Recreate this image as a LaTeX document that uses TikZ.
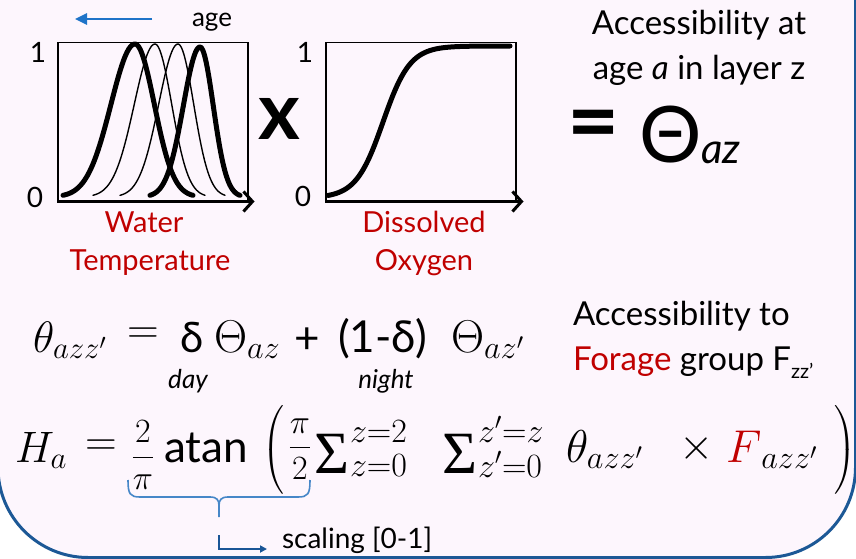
\RequirePackage{fix-cm}
\documentclass[tikz,border=0pt]{standalone}
\usepackage{amsmath}
\usepackage{fontspec}
\setmainfont{Lato}
\newfontfamily\sigmafont{Liberation Serif}
\usetikzlibrary{arrows.meta}
\definecolor{bgpink}{RGB}{253,246,253}
\definecolor{myred}{RGB}{192,0,0}
\definecolor{agebl}{RGB}{30,115,200}
\definecolor{bracebl}{RGB}{70,135,200}
\definecolor{framebl}{RGB}{28,88,150}
\definecolor{arrbl}{RGB}{25,85,150}
\newcommand\fsz[1]{\fontsize{#1}{#1}\selectfont}
\begin{document}
\begin{tikzpicture}[x=1pt,y=-1pt,
  tx/.style={inner sep=0pt, outer sep=0pt},
  plotbox/.style={draw, line width=1.5pt, minimum width=190pt, minimum height=158pt, inner sep=0pt, anchor=north west},
  axisline/.style={line width=3pt, -{Straight Barb[length=9pt,width=20pt,line width=3pt]}},
  thickc/.style={line width=5pt, line cap=round, line join=round},
  thinc/.style={line width=1.4pt, line cap=round, line join=round},
  redtx/.style={text=myred},
  lim/.style={tx, anchor=base west, font=\fsz{34}},
  sig/.style={tx, anchor=base west, font=\fsz{60}\sigmafont},
]
\useasboundingbox (0,0) rectangle (856,559);
\begin{scope}
  \clip (0,0) rectangle (856,559);
  \fill[white] (0,0) rectangle (856,559);
  \draw[framebl, line width=3pt, fill=bgpink, rounded corners=90pt] (-2,-200) rectangle (855.5,557.5);
\end{scope}

% ---- age arrow
\coordinate (agestart) at (152,19);
\coordinate (ageend) at (75,19);
\draw[agebl, line width=2.5pt, -{Triangle[length=12pt,width=11pt]}] (agestart) -- (ageend);
\node[tx, anchor=base, font=\fsz{26}] (age) at (212,27) {age};

% ---- left plot
\node[plotbox] (box1) at (57,42) {};
\draw[axisline] (box1.south west) -- ([xshift=6pt]box1.south east);
\node[tx, anchor=base, font=\fsz{28}] (one1) at (38,63) {1};
\node[tx, anchor=base, font=\fsz{28}] (zero1) at (35,207) {0};
\draw[thickc] plot[domain=63:193, samples=80, smooth] ({\x},{197-153*exp(-0.5*((\x-135)/ifthenelse(\x<135,24,19.3))^2)});
\draw[thinc] plot[domain=93:205, samples=80, smooth] ({\x},{197-153*exp(-0.5*((\x-155)/ifthenelse(\x<155,20.7,16.7))^2)});
\draw[thinc] plot[domain=120:225, samples=80, smooth] ({\x},{197-153*exp(-0.5*((\x-178)/ifthenelse(\x<178,19.3,15.7))^2)});
\draw[thickc] plot[domain=150:240, samples=80, smooth] ({\x},{197-150*exp(-0.5*((\x-200)/ifthenelse(\x<200,16.7,13.3))^2)});
\node[tx, anchor=base, font=\fsz{29}, redtx] (water) at (144,232) {Water};
\node[tx, anchor=base, font=\fsz{29}, redtx] (temp) at (150,270) {Temperature};

% ---- times
\node[tx, font=\fsz{80}\bfseries] (times) at (279,119) {x};

% ---- right plot
\node[plotbox] (box2) at (325,42) {};
\draw[axisline] (box2.south west) -- ([xshift=7pt]box2.south east);
\node[tx, anchor=base, font=\fsz{28}] (one2) at (305,63) {1};
\node[tx, anchor=base, font=\fsz{28}] (zero2) at (303,206) {0};
\draw[thickc] plot[domain=328:510, samples=100, smooth] ({\x},{198-152/(1+exp(-(\x-383)/13.5))});
\node[tx, anchor=base, font=\fsz{29}, redtx] (diss) at (424,232) {Dissolved};
\node[tx, anchor=base, font=\fsz{29}, redtx] (oxy) at (424,270) {Oxygen};

% ---- top right
\node[tx, anchor=base, font=\fsz{33}] (acc1) at (699,35) {Accessibility at};
\node[tx, anchor=base, font=\fsz{33}] (acc2) at (699,80) {age \textit{a} in layer z};
\node[tx, font=\fsz{90}\bfseries] (eqs) at (594,131) {=};
\node[tx, anchor=base, font=\fsz{78}] (Th) at (671,162) {Θ};
\node[tx, anchor=base west, font=\fsz{42}\itshape] (Thsub) at (701,163) {az};

% ---- row 2
\node[tx, anchor=base west, font=\fsz{44}] (th) at (33,352) {$\theta_{azz'}$};
\node[tx, font=\fsz{44}] (eq2) at (143,336) {$=$};
\node[tx, anchor=base west, font=\fsz{42}] (del) at (180,352) {δ};
\node[tx, anchor=base west, font=\fsz{46}] (Th2) at (214,352) {$\Theta_{az}$};
\node[tx, font=\fsz{44}] (plus) at (307,341) {+};
\node[tx, anchor=base west, font=\fsz{44}] (omd) at (338,352) {(1-δ)};
\node[tx, anchor=base west, font=\fsz{46}] (Th3) at (451,352) {$\Theta_{az'}$};
\node[tx, anchor=base, font=\fsz{26}\itshape] (day) at (188,388) {day};
\node[tx, anchor=base, font=\fsz{26}\itshape] (night) at (386,388) {night};
\node[tx, anchor=base west, font=\fsz{33}] (acc3) at (573,325) {Accessibility to};
\node[tx, anchor=base west, font=\fsz{33}] (acc4) at (573,370) {\textcolor{myred}{Forage} group F{\fsz{20}\raisebox{-8pt}{zz’}}};

% ---- row 3
\node[tx, anchor=base west, font=\fsz{44}] (Ha) at (15,462) {$H_a$};
\node[tx, font=\fsz{44}] (eq3) at (101,448) {$=$};
\node[tx, font=\fsz{34}] (fr1) at (143,455) {$\dfrac{2}{\pi}$};
\node[tx, anchor=base west, font=\fsz{44}] (atan) at (164,462) {atan};
\node[tx, font=\fsz{34}] (lp) at (273,450) {$\bigg($};
\node[tx, font=\fsz{34}] (fr2) at (300,449) {$\dfrac{\pi}{2}$};
\node[sig] (s1) at (314,473) {Σ};
\node[lim] (s1sup) at (350,442) {$z{=}2$};
\node[lim] (s1sub) at (350,476) {$z{=}0$};
\node[sig] (s2) at (442,473) {Σ};
\node[lim] (s2sup) at (478,442) {$z'{=}z$};
\node[lim] (s2sub) at (478,477) {$z'{=}0$};
\node[tx, anchor=base west, font=\fsz{46}] (th4) at (566,462) {$\theta_{azz'}$};
\node[tx, font=\fsz{44}] (x4) at (697,448) {$\times$};
\node[tx, anchor=base west, font=\fsz{46}] (F4) at (726,462) {$\textcolor{myred}{F}_{azz'}$};
\node[tx, font=\fsz{34}] (rp) at (845,450) {$\bigg)$};

% ---- brace + scaling arrow
\coordinate (brL) at (128,480);
\coordinate (brR) at (310,480);
\coordinate (brtip) at (219,517);
\draw[bracebl, line width=1.6pt]
  (brL) .. controls (128,494) and (130,497) .. (140,497) -- (210,497)
  .. controls (217,497) and (219,500) .. (219,506) -- (brtip);
\draw[bracebl, line width=1.6pt]
  (brR) .. controls (310,494) and (308,497) .. (298,497) -- (228,497)
  .. controls (221,497) and (219,500) .. (219,506);
\coordinate (arrstart) at (219,535);
\coordinate (arrend) at (267,549);
\draw[arrbl, line width=2.5pt, -{Triangle[length=7pt,width=7pt]}] (arrstart) |- (arrend);
\node[tx, anchor=base west, font=\fsz{28}] (scal) at (282,548) {scaling [0-1]};
\end{tikzpicture}
\end{document}
